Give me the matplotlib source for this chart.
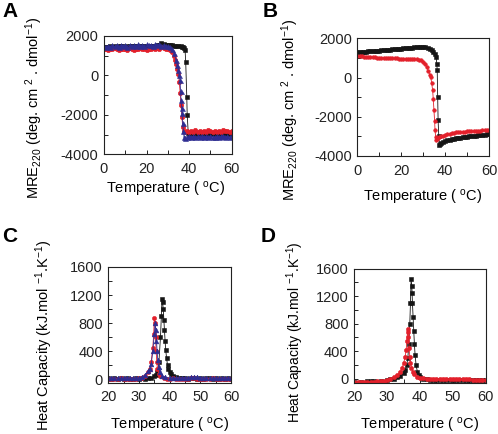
import matplotlib
matplotlib.use("Agg")
import matplotlib.pyplot as plt
from matplotlib.ticker import MultipleLocator

plt.rcParams['font.family'] = ['Liberation Sans', 'DejaVu Sans']
plt.rcParams['mathtext.fontset'] = 'custom'
plt.rcParams['mathtext.rm'] = 'Liberation Sans'
plt.rcParams['mathtext.it'] = 'Liberation Sans:italic'
plt.rcParams['mathtext.bf'] = 'Liberation Sans:bold'
plt.rcParams['axes.unicode_minus'] = False

# ---------------- Panel A data (MRE220 vs temperature) ----------------
A_black_T = list(range(0, 36)) + [36, 36.5, 37, 37.5, 38.1, 38.4, 38.9, 39.1, 39.6, 40] + list(range(41, 61))
A_black_V = [1440, 1460, 1430, 1470, 1450, 1480, 1460, 1490, 1470, 1480, 1460, 1490, 1470, 1500, 1480, 1490,
             1470, 1500, 1480, 1510, 1490, 1500, 1480, 1510, 1490, 1520, 1560, 1640, 1600, 1560, 1540, 1530,
             1520, 1510, 1500, 1490,
             1480, 1460, 1430, 1380, 1290, 700, -1080, -2000, -2930, -3000,
             -2980, -2960, -3000, -2970, -2990, -2950, -2980, -3000, -2960, -2990, -2970, -2950, -2990, -2970,
             -3000, -2960, -2980, -2950, -2990, -2970]

A_red_T = list(range(0, 32)) + [32, 33, 33.5, 34, 34.5, 35, 35.4, 35.8, 36.2, 36.6, 37.0, 37.4, 38] + list(range(39, 61))
A_red_V = [1330, 1360, 1310, 1350, 1320, 1370, 1330, 1300, 1360, 1320, 1350, 1310, 1370, 1340, 1300, 1360,
           1330, 1380, 1320, 1350, 1310, 1360, 1340, 1390, 1350, 1400, 1360, 1420, 1380, 1350, 1320, 1290,
           1200, 1000, 800, 600, 350, 50, -350, -900, -1500, -2100, -2600, -2800, -2850,
           -2830, -2880, -2800, -2860, -2790, -2850, -2820, -2890, -2810, -2860, -2780, -2840, -2870, -2800,
           -2850, -2820, -2880, -2790, -2840, -2810, -2860, -2830]

A_blue_T = list(range(0, 31)) + [31, 32, 33, 33.8, 34.4, 34.9, 35.3, 35.7, 36.0, 36.2, 36.5, 36.7, 37.0, 37.3, 37.6, 38] + list(range(39, 61))
A_blue_V = [1480, 1430, 1510, 1460, 1540, 1470, 1520, 1450, 1550, 1490, 1530, 1460, 1560, 1500, 1540, 1480,
            1570, 1510, 1550, 1490, 1580, 1520, 1560, 1500, 1600, 1530, 1570, 1510, 1550, 1500, 1480,
            1450, 1350, 1150, 780, 550, 280, 30, -230, -800, -1250, -1650, -1920, -2430, -2800, -3100, -3150,
            -3110, -3060, -3130, -3080, -3140, -3070, -3120, -3050, -3110, -3090, -3140, -3060, -3100, -3130,
            -3070, -3120, -3080, -3050, -3110, -3090, -3130, -3060]

# ---------------- Panel B data ----------------
B_black_T = list(range(0, 34)) + [34, 34.6, 35.2, 35.9, 36.2, 36.4, 36.6, 36.8, 37.1, 37.4, 37.8, 38.3, 39] + list(range(40, 61))
B_black_V = [1290, 1300, 1305, 1315, 1320, 1330, 1340, 1345, 1355, 1365, 1370, 1380, 1395, 1400, 1410, 1425,
             1430, 1440, 1455, 1460, 1470, 1485, 1490, 1500, 1515, 1520, 1530, 1540, 1545, 1550, 1545, 1530,
             1500, 1450,
             1380, 1320, 1200, 1060, 700, 380, -980, -2170, -3000, -3440, -3400, -3350, -3300,
             -3250, -3210, -3180, -3150, -3120, -3100, -3080, -3060, -3040, -3030, -3010, -3000, -2990, -2970,
             -2960, -2950, -2940, -2920, -2910, -2900, -2890]

B_red_T = list(range(0, 28)) + [28, 29, 30, 30.8, 31.6, 32.3, 33.0, 33.4, 33.9, 34.3, 34.6, 34.9, 35.2, 35.4,
                                 35.7, 35.9, 36.3, 36.8, 37.4, 38, 39] + list(range(40, 61))
B_red_V = [1100, 1090, 1075, 1065, 1055, 1045, 1040, 1030, 1025, 1020, 1010, 1005, 1000, 995, 990, 985,
           980, 975, 970, 968, 965, 960, 958, 955, 950, 945, 940, 930,
           900, 870, 800, 700, 550, 350, 150, 40, -300, -640, -1100, -1650, -2200, -2680,
           -3050, -3180, -3150, -3100, -3050, -3000, -2960,
           -2930, -2900, -2870, -2850, -2830, -2800, -2790, -2780, -2770, -2760, -2750, -2745, -2740, -2735,
           -2730, -2720, -2710, -2700, -2695, -2690, -2680]

# ---------------- Panel C data (heat capacity) ----------------
C_black_T = list(range(20, 34)) + [34, 35, 35.5, 36, 36.5, 37, 37.3, 37.5, 37.7, 37.9, 38.1, 38.3, 38.5, 38.7, 39,
                                   39.3, 39.6, 40, 40.5, 41, 42, 43] + list(range(44, 61))
C_black_V = [10, 5, 12, 8, 10, 6, 12, 9, 5, 10, 8, 12, 6, 10,
             20, 40, 60, 100, 250, 600, 900, 1140, 1100, 1000, 850, 700, 550, 420, 300,
             200, 140, 100, 70, 50, 30, 20,
             10, 12, 8, 10, 14, 9, 11, 8, 12, 10, 7, 11, 9, 12, 8, 10, 9]

C_red_T = list(range(20, 31)) + [31, 32, 33, 33.5, 34, 34.5, 34.8, 35, 35.2, 35.4, 35.6, 35.8, 36, 36.5, 37, 38] + list(range(39, 61))
C_red_V = [5, 8, 4, 6, 10, 5, 7, 3, 8, 6, 10,
           20, 50, 100, 150, 250, 450, 650, 870, 800, 600, 400, 250, 150, 80, 40, 20,
           8, 5, 10, 6, 4, 9, 7, 5, 10, 12, 8, 6, 9, 5, 7, 10, 6, 4, 8, 6, 9, 5]

C_blue_T = list(range(20, 31)) + [31, 32, 33, 33.5, 34, 34.5, 35, 35.3, 35.5, 35.7, 35.9, 36.1, 36.4, 36.8, 37.5, 38.5] + list(range(40, 61))
C_blue_V = [15, 20, 12, 18, 10, 16, 22, 14, 10, 18, 20,
            30, 60, 110, 150, 220, 400, 650, 800, 700, 550, 400, 280, 180, 100, 50, 30,
            15, 18, 12, 20, 16, 22, 18, 25, 30, 28, 24, 18, 15, 20, 14, 18, 12, 16, 20, 14, 18]

# ---------------- Panel D data ----------------
D_black_T = [20, 22, 24, 25, 26, 28, 30, 31, 32, 33, 34, 35, 35.5, 36, 36.3, 36.6, 36.9, 37.1, 37.3, 37.5, 37.6,
             37.7, 37.9, 38.1, 38.3, 38.5, 38.8, 39.2, 39.6, 40, 41, 42] + list(range(43, 61))
D_black_V = [-50, -48, -42, -40, -38, -30, -20, -12, 0, 20, 40, 80, 120, 200, 300, 500, 800, 1100, 1450, 1350,
             1250, 1100, 900, 700, 500, 350, 200, 100, 50, 20, 0, -10,
             -15, -18, -20, -20, -22, -20, -24, -22, -20, -23, -25, -22, -24, -20, -25, -23, -22, -24]

D_red_T = [20, 21, 22, 23, 24, 25, 26, 27, 28, 29, 30, 31, 32, 33, 34, 34.5, 35, 35.5, 35.8, 36.0, 36.2, 36.3,
           36.5, 36.7, 36.9, 37.1, 37.4, 37.8, 38.3, 39, 40] + list(range(41, 61))
D_red_V = [-55, -54, -52, -50, -48, -45, -43, -40, -35, -30, -15, 0, 20, 50, 100, 150, 220, 320, 420, 550, 680, 720,
           600, 450, 320, 230, 160, 100, 60, 30, 10,
           5, 0, -2, -4, -5, -6, -8, -8, -10, -10, -11, -12, -12, -13, -13, -14, -14, -15, -15, -15]

# ---------------- Labels ----------------
xlabel_txt = 'Temperature ( $^{\\mathrm{o}}$C)'
ylabel_mre = 'MRE$_{220}$ (deg. cm$^{\\ 2}$ . dmol$^{-1}$)'
ylabel_cp = 'Heat Capacity (kJ.mol $^{-1}$.K$^{-1}$)'

BLACK = '#151515'
RED = '#e3202b'
BLUE = '#2e2d92'

fig = plt.figure(figsize=(4.98, 4.34), dpi=100)

axA = fig.add_axes([0.2088, 0.6445, 0.2564, 0.2726])
axB = fig.add_axes([0.7175, 0.6406, 0.2645, 0.2712])
axC = fig.add_axes([0.2175, 0.1182, 0.2464, 0.2666])
axD = fig.add_axes([0.7114, 0.1182, 0.2639, 0.2627])


def series(ax, T, V, color, marker, ms):
    ax.plot(T, V, color=color, lw=0.6, marker=marker, ms=ms, mew=0.4, mec=color, mfc=color)


series(axA, A_black_T, A_black_V, BLACK, 's', 3.0)
series(axA, A_red_T, A_red_V, RED, 'o', 3.2)
series(axA, A_blue_T, A_blue_V, BLUE, '^', 3.6)

series(axB, B_black_T, B_black_V, BLACK, 's', 2.6)
series(axB, B_red_T, B_red_V, RED, 'o', 2.6)

series(axC, C_black_T, C_black_V, BLACK, 's', 2.8)
series(axC, C_red_T, C_red_V, RED, 'o', 3.0)
series(axC, C_blue_T, C_blue_V, BLUE, '^', 3.4)

series(axD, D_black_T, D_black_V, BLACK, 's', 2.8)
series(axD, D_red_T, D_red_V, RED, 'o', 3.0)

for ax in (axA, axB):
    ax.set_xlim(0, 60)
    ax.set_ylim(-4000, 2000)
    ax.xaxis.set_major_locator(MultipleLocator(20))
    ax.xaxis.set_minor_locator(MultipleLocator(10))
    ax.yaxis.set_major_locator(MultipleLocator(2000))
    ax.yaxis.set_minor_locator(MultipleLocator(1000))

for ax, ylo in ((axC, -50), (axD, -60)):
    ax.set_xlim(20, 60)
    ax.set_ylim(ylo, 1600)
    ax.xaxis.set_major_locator(MultipleLocator(10))
    ax.xaxis.set_minor_locator(MultipleLocator(5))
    ax.yaxis.set_major_locator(MultipleLocator(400))
    ax.yaxis.set_minor_locator(MultipleLocator(200))

for ax in (axA, axB, axC, axD):
    for s in ax.spines.values():
        s.set_linewidth(0.8)
        s.set_color('#222222')
    ax.tick_params(which='both', direction='in', length=2.6, width=0.7, top=False, right=False,
                   labelsize=10.5, colors='#222222')
    ax.tick_params(axis='x', which='major', pad=5.5)
    ax.tick_params(axis='y', which='major', pad=4)
    ax.set_xlabel(xlabel_txt, fontsize=10.5)

axA.xaxis.set_label_coords(0.48, -0.215)
axB.xaxis.set_label_coords(0.5, -0.27)
axC.xaxis.set_label_coords(0.5, -0.29)
axD.xaxis.set_label_coords(0.5, -0.29)

axA.set_ylabel(ylabel_mre, fontsize=10.5)
axB.set_ylabel(ylabel_mre, fontsize=10.5)
axC.set_ylabel(ylabel_cp, fontsize=10.5)
axD.set_ylabel(ylabel_cp, fontsize=10)
axA.yaxis.set_label_coords(-0.46, 0.39)
axB.yaxis.set_label_coords(-0.43, 0.39)
axC.yaxis.set_label_coords(-0.434, 0.41)
axD.yaxis.set_label_coords(-0.37, 0.445)

for x, y, t in ((0.004, 0.995, 'A'), (0.528, 0.995, 'B'), (0.004, 0.478, 'C'), (0.524, 0.478, 'D')):
    fig.text(x, y, t, fontsize=15, fontweight='bold', ha='left', va='top')

fig.savefig('out.png', dpi=100)
